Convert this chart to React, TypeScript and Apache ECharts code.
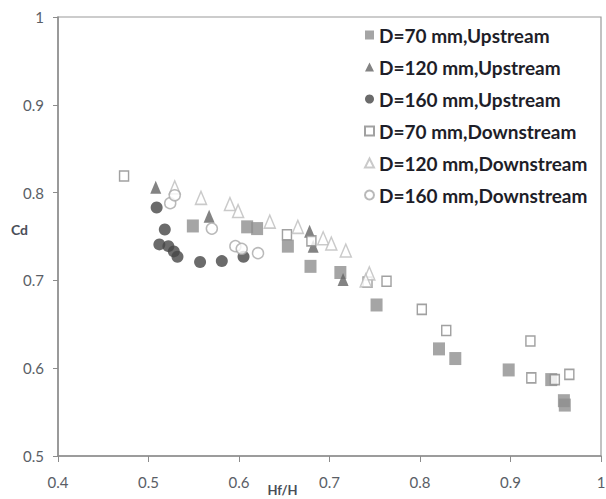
import React, { useEffect, useRef } from "react";
import * as echarts from "echarts";

const seriesNames = [
  "D=70 mm,Upstream",
  "D=120 mm,Upstream",
  "D=160 mm,Upstream",
  "D=70 mm,Downstream",
  "D=120 mm,Downstream",
  "D=160 mm,Downstream",
];

const up70X = [0.549, 0.609, 0.62, 0.654, 0.679, 0.712, 0.752, 0.821, 0.839, 0.898, 0.945, 0.959, 0.96];
const up70Y = [0.762, 0.761, 0.759, 0.739, 0.716, 0.709, 0.672, 0.622, 0.611, 0.598, 0.587, 0.563, 0.558];

const up120X = [0.508, 0.567, 0.678, 0.682, 0.715];
const up120Y = [0.806, 0.773, 0.756, 0.739, 0.701];

const up160X = [0.509, 0.518, 0.512, 0.522, 0.528, 0.532, 0.557, 0.581, 0.605];
const up160Y = [0.783, 0.758, 0.741, 0.739, 0.733, 0.727, 0.721, 0.722, 0.727];

const down70X = [0.473, 0.653, 0.68, 0.742, 0.763, 0.802, 0.829, 0.922, 0.923, 0.949, 0.965];
const down70Y = [0.819, 0.752, 0.745, 0.698, 0.699, 0.667, 0.643, 0.631, 0.589, 0.587, 0.593];

const down120X = [0.529, 0.558, 0.59, 0.599, 0.634, 0.665, 0.693, 0.702, 0.718, 0.744, 0.74];
const down120Y = [0.806, 0.794, 0.787, 0.779, 0.767, 0.761, 0.748, 0.742, 0.734, 0.708, 0.7];

const down160X = [0.524, 0.529, 0.57, 0.596, 0.603, 0.621];
const down160Y = [0.788, 0.797, 0.759, 0.739, 0.736, 0.731];

const xTicks = [0.4, 0.5, 0.6, 0.7, 0.8, 0.9, 1];
const yTicks = [0.5, 0.6, 0.7, 0.8, 0.9, 1];

const zip = (xs: number[], ys: number[]) => xs.map((x, i) => [x, ys[i]]);

export default function App() {
  const ref = useRef<HTMLDivElement>(null);
  useEffect(() => {
    if (!ref.current) return;
    const chart = echarts.init(ref.current, null, { renderer: "svg" });
    const labelFont = { fontFamily: "Lato", fontSize: 15, color: "#5a5e66" };
    chart.setOption({
      animation: false,
      backgroundColor: "#fff",
      grid: {
        left: 58,
        right: 5,
        top: 17,
        bottom: 43,
        outerBoundsMode: "none",
        containLabel: false,
        show: true,
        borderColor: "#9a9a9a",
        borderWidth: 1.2,
      },
      legend: {
        orient: "vertical",
        left: 359,
        top: 19,
        itemWidth: 9,
        itemHeight: 9,
        itemGap: 10,
        textStyle: {
          fontFamily: "Lato",
          fontWeight: "bold",
          fontSize: 19,
          lineHeight: 22,
          color: "#1e1e28",
        },
        data: seriesNames,
      },
      xAxis: {
        type: "value",
        min: 0.4,
        max: 1,
        interval: 0.1,
        name: "Hf/H",
        nameLocation: "middle",
        nameGap: 27,
        nameMoveOverlap: false,
        nameTextStyle: { fontFamily: "Lato", fontWeight: "bold", fontSize: 13, color: "#4a4e58", padding: [0, 94, 0, 0] },
        axisLine: { lineStyle: { color: "#8c8c8c", width: 1.5 } },
        axisTick: { show: true, length: 6, lineStyle: { color: "#8c8c8c" } },
        axisLabel: { ...labelFont, margin: 18, customValues: xTicks },
        splitLine: { show: false },
      },
      yAxis: {
        type: "value",
        min: 0.5,
        max: 1,
        interval: 0.1,
        name: "Cd",
        nameLocation: "middle",
        nameRotate: 0,
        nameGap: 30,
        nameMoveOverlap: false,
        nameTextStyle: { fontFamily: "Lato", fontWeight: "bold", fontSize: 14, color: "#4a4e58", verticalAlign: "bottom" },
        axisLine: { show: true, lineStyle: { color: "#8c8c8c", width: 1.5 } },
        axisTick: { show: true, length: 5, lineStyle: { color: "#8c8c8c" } },
        axisLabel: { ...labelFont, margin: 14, customValues: yTicks },
        splitLine: { show: false },
      },
      series: [
        {
          name: seriesNames[0],
          type: "scatter",
          symbol: "rect",
          symbolSize: [12, 13],
          itemStyle: { color: "#8e8e8e" },
          data: zip(up70X, up70Y),
        },
        {
          name: seriesNames[1],
          type: "scatter",
          symbol: "triangle",
          symbolSize: [11, 13],
          itemStyle: { color: "#646464" },
          data: zip(up120X, up120Y),
        },
        {
          name: seriesNames[2],
          type: "scatter",
          symbol: "circle",
          symbolSize: 12,
          itemStyle: { color: "#464646" },
          data: zip(up160X, up160Y),
        },
        {
          name: seriesNames[3],
          type: "scatter",
          symbol: "rect",
          symbolSize: [9, 10],
          itemStyle: { color: "#ffffff", borderColor: "#8a8a8a", borderWidth: 1.5 },
          data: zip(down70X, down70Y),
        },
        {
          name: seriesNames[4],
          type: "scatter",
          symbol: "triangle",
          symbolSize: [11, 13],
          itemStyle: { color: "#ffffff", borderColor: "#bdbdbd", borderWidth: 1.5 },
          data: zip(down120X, down120Y),
        },
        {
          name: seriesNames[5],
          type: "scatter",
          symbol: "circle",
          symbolSize: 11,
          itemStyle: { color: "#ffffff", borderColor: "#a8a8a8", borderWidth: 1.5 },
          data: zip(down160X, down160Y),
        },
      ],
    });
    return () => chart.dispose();
  }, []);
  return <div ref={ref} style={{ width: 606, height: 499, position: "absolute", left: 0, top: 0 }} />;
}
